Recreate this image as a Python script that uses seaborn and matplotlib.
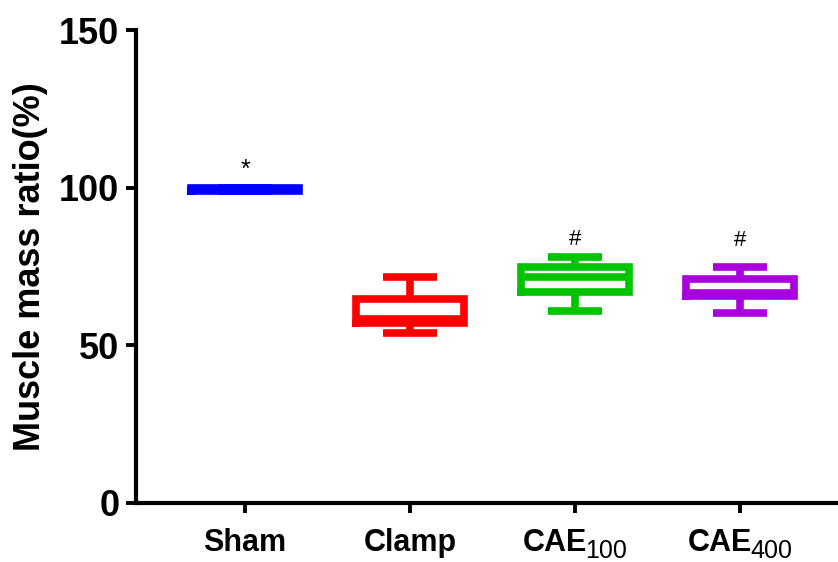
import matplotlib
matplotlib.use("Agg")
import matplotlib.pyplot as plt
import matplotlib.transforms as mtransforms
import numpy as np
import pandas as pd
import seaborn as sns

# five-number summaries: min, q1, median, q3, max
groups = ["Sham", "Clamp", "CAE100", "CAE400"]
sham = [98.9, 98.9, 99.4, 100.0, 100.0]
clamp = [53.8, 57.2, 58.4, 64.7, 71.8]
cae100 = [61.0, 67.0, 71.8, 74.7, 78.0]
cae400 = [60.3, 65.8, 66.6, 70.9, 74.8]
tick_main = ["Sham", "Clamp", "CAE", "CAE"]
tick_sub = ["", "", "100", "400"]
colors = ["#0000FF", "#FF0000", "#00C400", "#AA00DD"]
marks = ["*", "", "#", "#"]
mark_y = [103.4, 0, 81.8, 81.5]
mark_size = [18, 0, 16, 16]

df = pd.DataFrame({
    "group": np.repeat(groups, 5),
    "value": sham + clamp + cae100 + cae400,
})

sns.set_style("ticks")
plt.rcParams["font.family"] = ["Liberation Sans", "DejaVu Sans"]
plt.rcParams["text.color"] = "black"
plt.rcParams["axes.labelcolor"] = "black"
plt.rcParams["xtick.color"] = "black"
plt.rcParams["ytick.color"] = "black"
plt.rcParams["axes.edgecolor"] = "black"

fig = plt.figure(figsize=(8.38, 5.62), dpi=100)
ax = fig.add_axes([0.1623, 0.105, 0.8377, 0.8416])

sns.boxplot(data=df, x="group", y="value", hue="group", palette=colors,
            dodge=False, legend=False, fill=False, width=0.65, linewidth=5.5,
            whis=(0, 100), capwidths=0.33, ax=ax,
            boxprops={"solid_joinstyle": "miter", "solid_capstyle": "projecting"},
            whiskerprops={"solid_capstyle": "butt"},
            capprops={"solid_capstyle": "butt"},
            medianprops={"solid_capstyle": "butt"})

for i, m in enumerate(marks):
    if m:
        ax.text(i, mark_y[i], m, ha="center", va="baseline",
                fontsize=mark_size[i], color="black")

ax.set_xlim(-0.661, 3.594)
ax.set_ylim(0, 150)
ax.set_yticks([0, 50, 100, 150])
ax.set_xticks(range(4))
ax.set_xticklabels(tick_main, fontsize=22, fontweight="bold")
ax.set_yticklabels(["0", "50", "100", "150"], fontsize=26, fontweight="bold")
ax.set_xlabel("")
ax.set_ylabel("Muscle mass ratio(%)", fontsize=26, fontweight="bold")
ax.yaxis.set_label_coords(-0.125, 0.5)

for side in ["left", "bottom"]:
    ax.spines[side].set_linewidth(3)
sns.despine(ax=ax)
ax.tick_params(axis="both", length=7, width=2.8, color="black")
ax.tick_params(axis="x", pad=11)
ax.tick_params(axis="y", pad=5)

# subscripts after "CAE", then shift the pair so it is centred on the tick
fig.canvas.draw()
renderer = fig.canvas.get_renderer()
for lab, sub in zip(ax.get_xticklabels(), tick_sub):
    if sub:
        s = ax.annotate(sub, xy=(1, 0), xycoords=lab, xytext=(-1.5, 0),
                        textcoords="offset points", ha="left", va="baseline",
                        fontsize=18, color="black")
        w = s.get_window_extent(renderer).width - 1.5 * fig.dpi / 72
        shift = mtransforms.ScaledTranslation(-w / 2 / fig.dpi, 0, fig.dpi_scale_trans)
        lab.set_transform(lab.get_transform() + shift)

fig.savefig("out.png", dpi=100)
